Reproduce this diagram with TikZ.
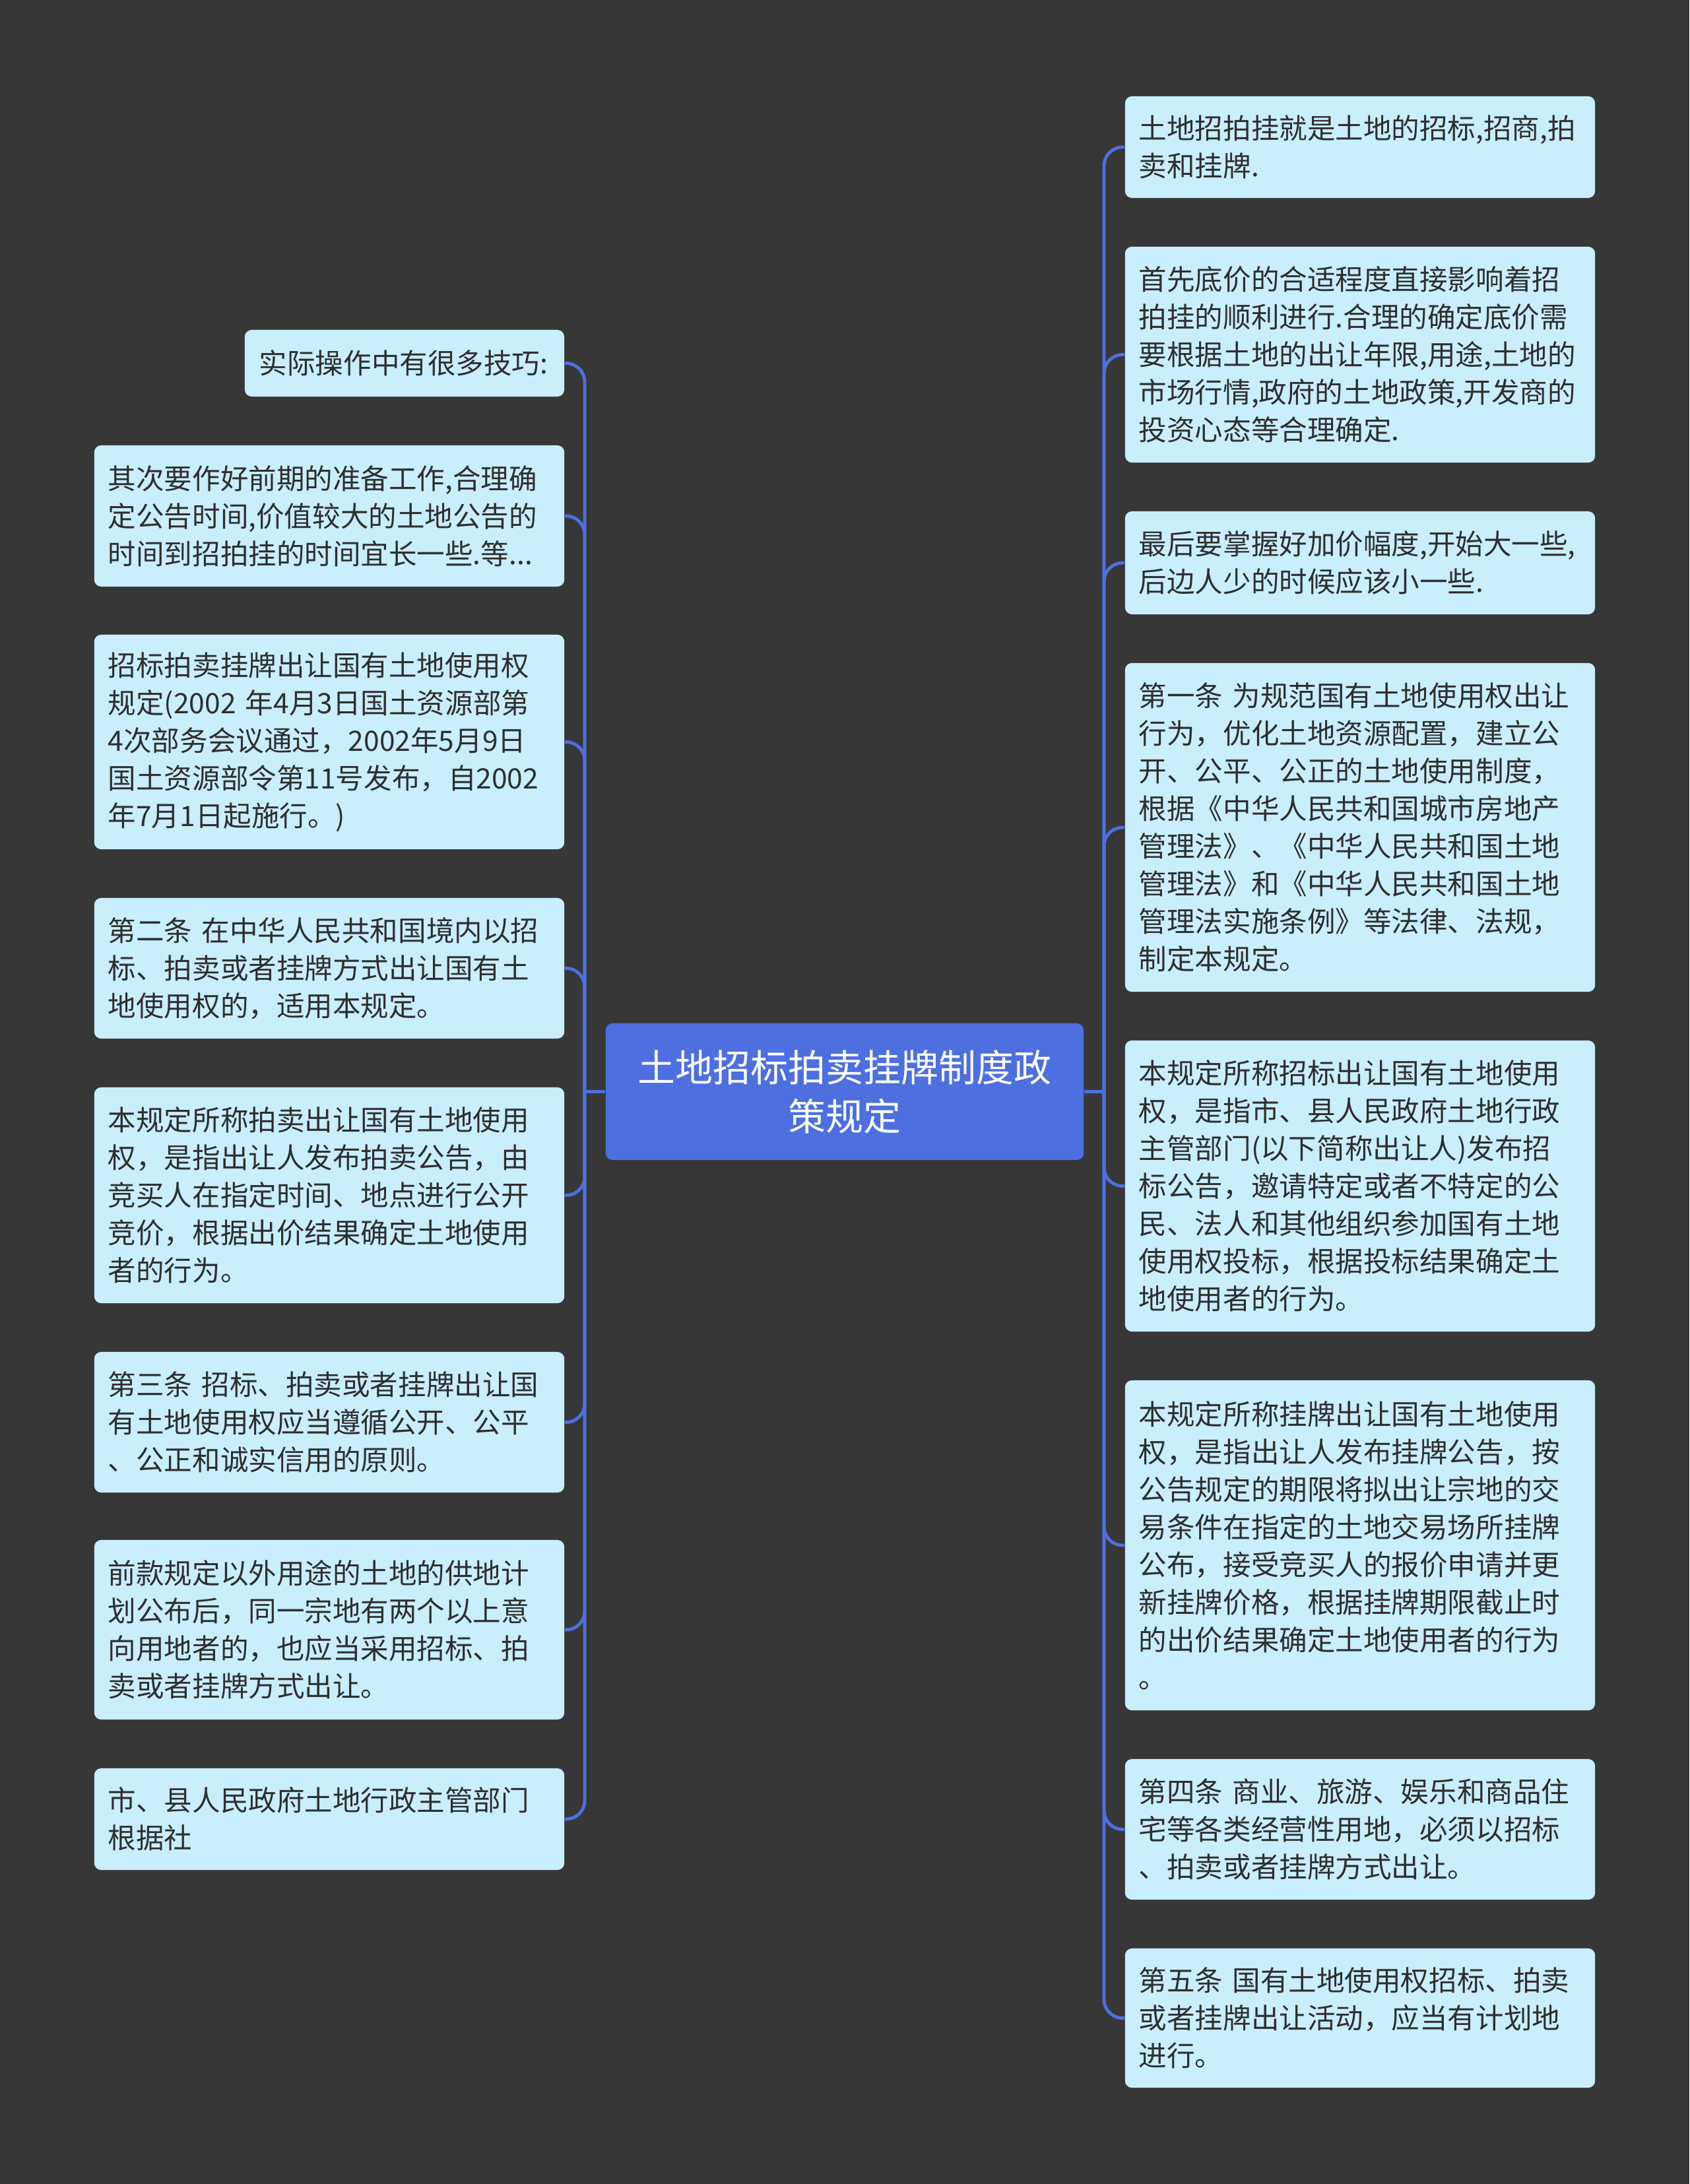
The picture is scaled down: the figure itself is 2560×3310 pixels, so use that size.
\documentclass[tikz,border=0pt]{standalone}
\usepackage{fontspec}
\setmainfont{Noto Sans CJK SC}
\definecolor{bgc}{HTML}{373737}
\definecolor{leafc}{HTML}{C9EEFC}
\definecolor{rootc}{HTML}{4D6FE0}
\definecolor{linec}{HTML}{4D6FE0}
\definecolor{txt}{HTML}{2F2F2F}
\tikzset{
  leaf/.style={fill=leafc, rounded corners=3pt, text=txt, align=left,
    inner xsep=0pt, inner ysep=0pt, font=\fontsize{12.1}{16.2}\selectfont},
  rootbox/.style={fill=rootc, rounded corners=3pt, text=white, align=center,
    inner sep=0pt, font=\fontsize{16.2}{21}\selectfont},
  conn/.style={draw=linec, line width=1.4pt, rounded corners=8pt},
}
\begin{document}
\begin{tikzpicture}[x=0.01cm, y=-0.01cm]
\fill[bgc] (0,0) rectangle (2560,3310);
\useasboundingbox (0,0) rectangle (2560,3310);

% root
\node[rootbox, minimum width=7.24cm, minimum height=2.07cm] (root) at (1280,1654.5)
  {土地招标拍卖挂牌制度政\\策规定};

\coordinate (tL) at (886,1654.5);
\coordinate (tR) at (1673,1654.5);

% right column
\node[leaf, minimum width=7.12cm, minimum height=1.54cm, text width=6.70cm] (R1) at (2061,223)
  {土地招拍挂就是土地的招标,招商,拍\\卖和挂牌.};
\node[leaf, minimum width=7.12cm, minimum height=3.27cm, text width=6.70cm] (R2) at (2061,537.5)
  {首先底价的合适程度直接影响着招\\拍挂的顺利进行.合理的确定底价需\\要根据土地的出让年限,用途,土地的\\市场行情,政府的土地政策,开发商的\\投资心态等合理确定.};
\node[leaf, minimum width=7.12cm, minimum height=1.56cm, text width=6.70cm] (R3) at (2061,853)
  {最后要掌握好加价幅度,开始大一些,\\后边人少的时候应该小一些.};
\node[leaf, minimum width=7.12cm, minimum height=4.98cm, text width=6.70cm] (R4) at (2061,1254)
  {第一条 为规范国有土地使用权出让\\行为，优化土地资源配置，建立公\\开、公平、公正的土地使用制度，\\根据《中华人民共和国城市房地产\\管理法》、《中华人民共和国土地\\管理法》和《中华人民共和国土地\\管理法实施条例》等法律、法规，\\制定本规定。};
\node[leaf, minimum width=7.12cm, minimum height=4.41cm, text width=6.70cm] (R5) at (2061,1797.5)
  {本规定所称招标出让国有土地使用\\权，是指市、县人民政府土地行政\\主管部门(以下简称出让人)发布招\\标公告，邀请特定或者不特定的公\\民、法人和其他组织参加国有土地\\使用权投标，根据投标结果确定土\\地使用者的行为。};
\node[leaf, minimum width=7.12cm, minimum height=5.00cm, text width=6.70cm] (R6) at (2061,2342)
  {本规定所称挂牌出让国有土地使用\\权，是指出让人发布挂牌公告，按\\公告规定的期限将拟出让宗地的交\\易条件在指定的土地交易场所挂牌\\公布，接受竞买人的报价申请并更\\新挂牌价格，根据挂牌期限截止时\\的出价结果确定土地使用者的行为\\。};
\node[leaf, minimum width=7.12cm, minimum height=2.13cm, text width=6.70cm] (R7) at (2061,2772.5)
  {第四条 商业、旅游、娱乐和商品住\\宅等各类经营性用地，必须以招标\\、拍卖或者挂牌方式出让。};
\node[leaf, minimum width=7.12cm, minimum height=2.11cm, text width=6.70cm] (R8) at (2061,3058.5)
  {第五条 国有土地使用权招标、拍卖\\或者挂牌出让活动，应当有计划地\\进行。};

% left column
\node[leaf, minimum width=4.84cm, minimum height=1.01cm, text width=4.40cm] (L1) at (613,550.5)
  {实际操作中有很多技巧:};
\node[leaf, minimum width=7.12cm, minimum height=2.14cm, text width=6.70cm] (L2) at (499,782)
  {其次要作好前期的准备工作,合理确\\定公告时间,价值较大的土地公告的\\时间到招拍挂的时间宜长一些.等...};
\node[leaf, minimum width=7.12cm, minimum height=3.25cm, text width=6.70cm] (L3) at (499,1124.5)
  {招标拍卖挂牌出让国有土地使用权\\规定(2002 年4月3日国土资源部第\\4次部务会议通过，2002年5月9日\\国土资源部令第11号发布，自2002\\年7月1日起施行。)};
\node[leaf, minimum width=7.12cm, minimum height=2.13cm, text width=6.70cm] (L4) at (499,1467.5)
  {第二条 在中华人民共和国境内以招\\标、拍卖或者挂牌方式出让国有土\\地使用权的，适用本规定。};
\node[leaf, minimum width=7.12cm, minimum height=3.27cm, text width=6.70cm] (L5) at (499,1811.5)
  {本规定所称拍卖出让国有土地使用\\权，是指出让人发布拍卖公告，由\\竞买人在指定时间、地点进行公开\\竞价，根据出价结果确定土地使用\\者的行为。};
\node[leaf, minimum width=7.12cm, minimum height=2.13cm, text width=6.70cm] (L6) at (499,2155.5)
  {第三条 招标、拍卖或者挂牌出让国\\有土地使用权应当遵循公开、公平\\、公正和诚实信用的原则。};
\node[leaf, minimum width=7.12cm, minimum height=2.72cm, text width=6.70cm] (L7) at (499,2470)
  {前款规定以外用途的土地的供地计\\划公布后，同一宗地有两个以上意\\向用地者的，也应当采用招标、拍\\卖或者挂牌方式出让。};
\node[leaf, minimum width=7.12cm, minimum height=1.54cm, text width=6.70cm] (L8) at (499,2757)
  {市、县人民政府土地行政主管部门\\根据社};

% connectors
\draw[conn] (root.west) -- (tL);
\draw[conn] (root.east) -- (tR);
\foreach \n in {R1,R2,R3,R4,R5,R6,R7,R8}
  \draw[conn] (tR) |- (\n.west);
\foreach \n in {L1,L2,L3,L4,L5,L6,L7,L8}
  \draw[conn] (tL) |- (\n.east);
\end{tikzpicture}
\end{document}
